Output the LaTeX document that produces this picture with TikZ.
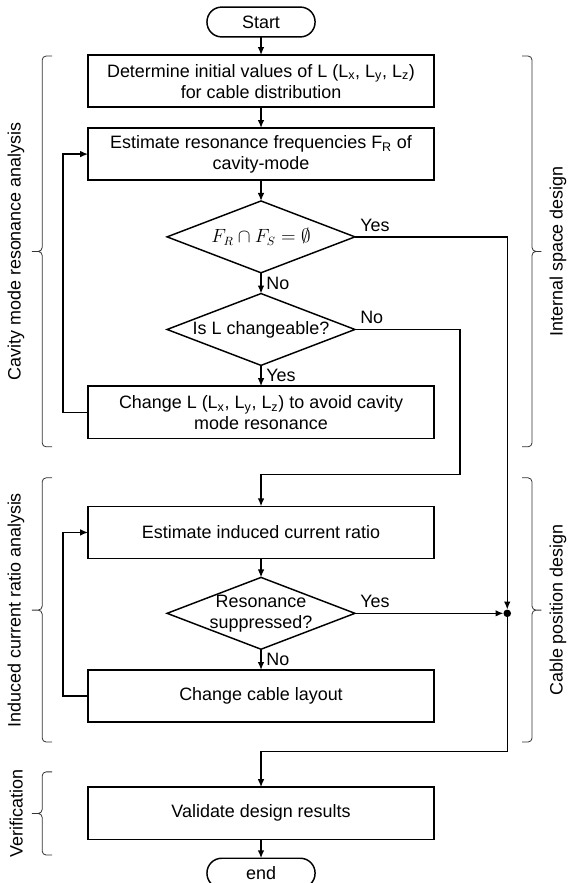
\documentclass[tikz,border=0pt]{standalone}
\usepackage{amsmath}
\usepackage{fontspec}
\setmainfont{Liberation Sans}
\usetikzlibrary{positioning,shapes.geometric,arrows.meta}

\begin{document}
\begin{tikzpicture}[
    font=\fontsize{13.5}{15.75}\selectfont,
    line width=1.1pt,
    >={Latex[length=6pt,width=5pt]},
    every node/.style={outer sep=0pt},
    terminal/.style={draw, rounded corners=0.39cm, minimum width=2.86cm, minimum height=0.79cm},
    process/.style={draw, minimum width=9.15cm, minimum height=1.38cm, align=center},
    decision/.style={draw, diamond, minimum width=4.97cm, minimum height=1.90cm, inner sep=0pt},
    junction/.style={circle, fill, inner sep=0pt, minimum size=0.2cm},
    bracket/.style={line width=0.6pt, black!80, rounded corners=3pt},
    sidelabel/.style={rotate=90}
]

    \useasboundingbox (-6.906,0.582) rectangle (8.149,-22.780);

    % Start
    \node[terminal] (start) at (0,0) {Start};

    % Internal space design
    \node[process, below=0.48cm of start] (init)
        {Determine initial values of L (L\textsubscript{x}, L\textsubscript{y}, L\textsubscript{z})\\for cable distribution};
    \node[process, below=0.55cm of init] (estfreq)
        {Estimate resonance frequencies F\textsubscript{R} of\\cavity-mode};
    \node[decision, below=0.55cm of estfreq] (nores) {};
    \node (norestext) at (nores.center) {$F_R \cap F_S = \emptyset$};
    \node[decision, below=0.55cm of nores] (changeable) {};
    \node (changeabletext) at (changeable.center) {Is L changeable?};
    \node[process, below=0.55cm of changeable] (changeL)
        {Change L (L\textsubscript{x}, L\textsubscript{y}, L\textsubscript{z}) to avoid cavity\\mode resonance};

    % Cable position design
    \node[process, below=1.80cm of changeL] (estcur) {Estimate induced current ratio};
    \node[decision, below=0.50cm of estcur] (suppressed) {};
    \node[align=center] (suppressedtext) at (suppressed.center) {Resonance\\suppressed?};
    \node[process, below=0.55cm of suppressed] (layout) {Change cable layout};

    % Verification
    \node[process, below=1.72cm of layout] (validate) {Validate design results};
    \node[terminal, below=0.50cm of validate] (stop) {end};

    % joints
    \node[junction, right=3.93cm of suppressed.east] (junc) {};
    \coordinate[below=0.95cm of changeL] (bend1);
    \coordinate[below=0.77cm of layout] (bend2);

    % Arrows
    \draw[->] (start) -- (init);
    \draw[->] (init) -- (estfreq);
    \draw[->] (estfreq) -- (nores);
    \draw[->] (nores) -- (changeable)
        node[midway,right,inner sep=4pt] (no1) {No};
    \draw[->] (changeable) -- (changeL)
        node[midway,right,inner sep=4pt] (yes2) {Yes};
    \draw[->] (estcur) -- (suppressed);
    \draw[->] (suppressed) -- (layout)
        node[midway,right,inner sep=4pt] (no3) {No};
    \draw[->] (validate) -- (stop);

    \draw[->] (nores.east) node[above right,inner sep=4pt] (yes1) {Yes} -| (junc.north);
    \draw[->] (changeable.east) node[above right,inner sep=4pt] (no2) {No}
        -- ++(2.78,0) |- (bend1) -- (estcur.north);
    \draw[->] (suppressed.east) node[above right,inner sep=4pt] (yes3) {Yes} -- (junc.west);
    \draw[->] (junc.south) |- (bend2) -- (validate.north);

    % loops back
    \draw[->] (changeL.west) -- ++(-0.66,0) |- (estfreq.west);
    \draw[->] (layout.west) -- ++(-0.66,0) |- (estcur.west);

    % Stage brackets (left)
    \draw[bracket] (-5.53,-0.90) -- (-5.79,-0.90) -- (-5.79,-6.07) -- (-6.06,-6.07)
        (-5.53,-11.24) -- (-5.79,-11.24) -- (-5.79,-6.07) -- (-6.06,-6.07);
    \draw[bracket] (-5.53,-12.06) -- (-5.79,-12.06) -- (-5.79,-15.56) -- (-6.06,-15.56)
        (-5.53,-19.05) -- (-5.79,-19.05) -- (-5.79,-15.56) -- (-6.06,-15.56);
    \draw[bracket] (-5.53,-19.84) -- (-5.79,-19.84) -- (-5.79,-20.94) -- (-6.06,-20.94)
        (-5.53,-22.04) -- (-5.79,-22.04) -- (-5.79,-20.94) -- (-6.06,-20.94);

    % Stage brackets (right)
    \draw[bracket] (6.91,-0.90) -- (7.17,-0.90) -- (7.17,-6.07) -- (7.42,-6.07)
        (6.91,-11.24) -- (7.17,-11.24) -- (7.17,-6.07) -- (7.42,-6.07);
    \draw[bracket] (6.91,-12.06) -- (7.17,-12.06) -- (7.17,-15.56) -- (7.42,-15.56)
        (6.91,-19.05) -- (7.17,-19.05) -- (7.17,-15.56) -- (7.42,-15.56);

    \node[sidelabel] (cavlab) at (-6.48,-6.07) {Cavity mode resonance analysis};
    \node[sidelabel] (indlab) at (-6.48,-15.56) {Induced current ratio analysis};
    \node[sidelabel] (verlab) at (-6.48,-20.94) {Verification};
    \node[sidelabel] (intlab) at (7.86,-6.07) {Internal space design};
    \node[sidelabel] (cablab) at (7.86,-15.56) {Cable position design};

\end{tikzpicture}
\end{document}
